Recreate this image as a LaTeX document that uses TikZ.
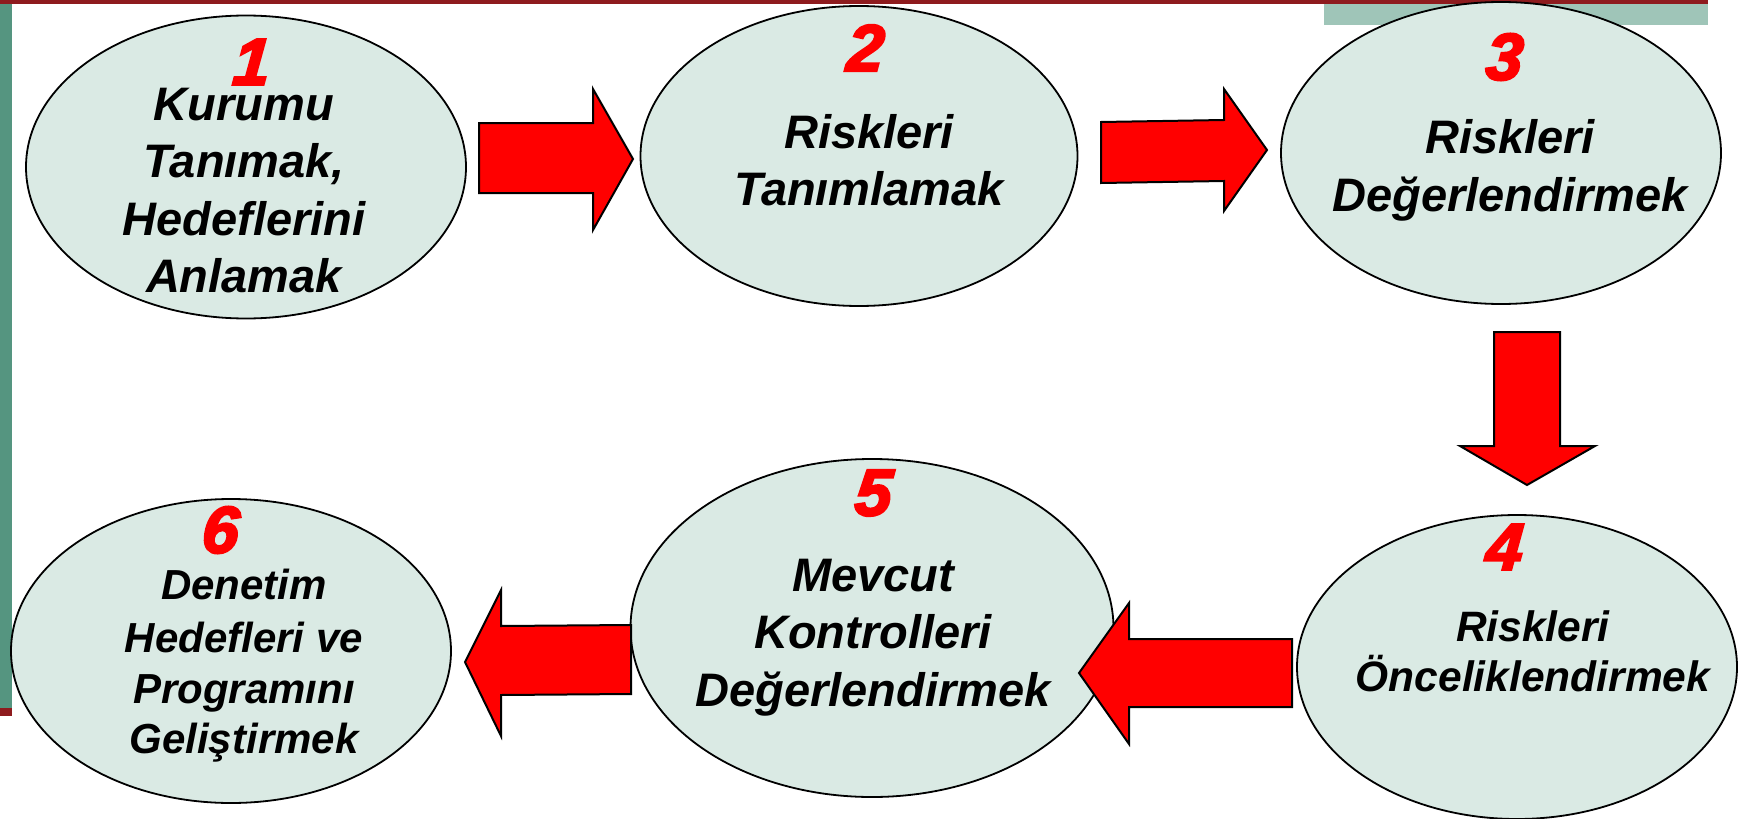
\documentclass[tikz,border=0pt]{standalone}
\usepackage{fontspec}
\setmainfont{Liberation Sans}
\newfontfamily\numfont[FakeBold=3.5,FakeSlant=0.08]{Liberation Sans Bold Italic}
\definecolor{topred}{HTML}{8E1B1E}
\definecolor{sidegreen}{HTML}{559580}
\definecolor{paleteal}{HTML}{9FC5B8}
\definecolor{ellfill}{HTML}{DAEAE4}
\definecolor{arrred}{HTML}{FF0000}
\tikzset{
  ell/.style={ellipse, draw=black, line width=1.8pt, fill=ellfill, inner sep=0pt},
  blockarrow/.style={draw=black, line width=2pt, fill=arrred, line join=miter},
  lbl/.style={anchor=base, inner sep=0pt, font=\bfseries\itshape\fontsize{47}{47}\selectfont},
  lblsmall/.style={anchor=base, inner sep=0pt, font=\bfseries\itshape\fontsize{42.5}{42.5}\selectfont},
  lblsix/.style={anchor=base, inner sep=0pt, font=\bfseries\itshape\fontsize{42}{42}\selectfont},
  num/.style={anchor=center, inner sep=0pt, text=arrred, font=\numfont\fontsize{66}{66}\selectfont},
}
\usetikzlibrary{shapes.geometric}
\begin{document}
\begin{tikzpicture}[x=1pt,y=-1pt]
\useasboundingbox (0,0) rectangle (1756,819);
% background frame pieces
\fill[topred] (0,0) rectangle (1708,4);
\fill[paleteal] (1324,4) rectangle (1708,25);
\fill[sidegreen] (0,4) rectangle (12,708);
\fill[topred] (0,708) rectangle (12,716);
% ellipses
\node[ell, minimum width=440pt, minimum height=303pt] (e1) at (246,167) {};
\node[ell, minimum width=437pt, minimum height=300pt] (e2) at (859,156) {};
\node[ell, minimum width=440pt, minimum height=302pt] (e3) at (1501,153) {};
\node[ell, minimum width=440pt, minimum height=304pt] (e4) at (1517,667) {};
\node[ell, minimum width=483pt, minimum height=338pt] (e5) at (872,628) {};
\node[ell, minimum width=440pt, minimum height=304pt] (e6) at (231,651) {};
% block arrows
\draw[blockarrow] (479,123) -- (593,123) -- (593,89) -- (633,159) -- (593,230) -- (593,193) -- (479,193) -- cycle;
\draw[blockarrow] (1101,122) -- (1224,120) -- (1224,89) -- (1267,150) -- (1224,211) -- (1224,181) -- (1101,183) -- cycle;
\draw[blockarrow] (1494,332) -- (1560,332) -- (1560,446) -- (1595,446) -- (1527,485) -- (1460,446) -- (1494,446) -- cycle;
\draw[blockarrow] (1292,639) -- (1129,639) -- (1129,603) -- (1079,673) -- (1129,744) -- (1129,707) -- (1292,707) -- cycle;
\draw[blockarrow] (631,625) -- (501,626) -- (501,590) -- (465,662) -- (501,736) -- (501,695) -- (631,694) -- cycle;
% numbers
\node[num] (n1) at (250,62) {1};
\node[num] (n2) at (864,48) {2};
\node[num] (n3) at (1503,57) {3};
\node[num] (n4) at (1503,547) {4};
\node[num] (n5) at (872,493) {5};
\node[num] (n6) at (219,530) {6};
% texts
\node[lbl] (t1a) at (244,120) {Kurumu};
\node[lbl] (t1b) at (244,177) {Tanımak,};
\node[lbl] (t1c) at (244,235) {Hedeflerini};
\node[lbl] (t1d) at (244,292) {Anlamak};
\node[lbl] (t2a) at (869,148) {Riskleri};
\node[lbl] (t2b) at (869,205) {Tanımlamak};
\node[lbl] (t3a) at (1510,153) {Riskleri};
\node[lbl] (t3b) at (1510,211) {Değerlendirmek};
\node[lblsmall] (t4a) at (1533,641) {Riskleri};
\node[lblsmall] (t4b) at (1533,691) {Önceliklendirmek};
\node[lbl] (t5a) at (873,591) {Mevcut};
\node[lbl] (t5b) at (873,648) {Kontrolleri};
\node[lbl] (t5c) at (873,706) {Değerlendirmek};
\node[lblsix] (t6a) at (244,599) {Denetim};
\node[lblsix] (t6b) at (244,652) {Hedefleri ve};
\node[lblsix] (t6c) at (244,703) {Programını};
\node[lblsix] (t6d) at (244,753) {Geliştirmek};
\end{tikzpicture}
\end{document}
